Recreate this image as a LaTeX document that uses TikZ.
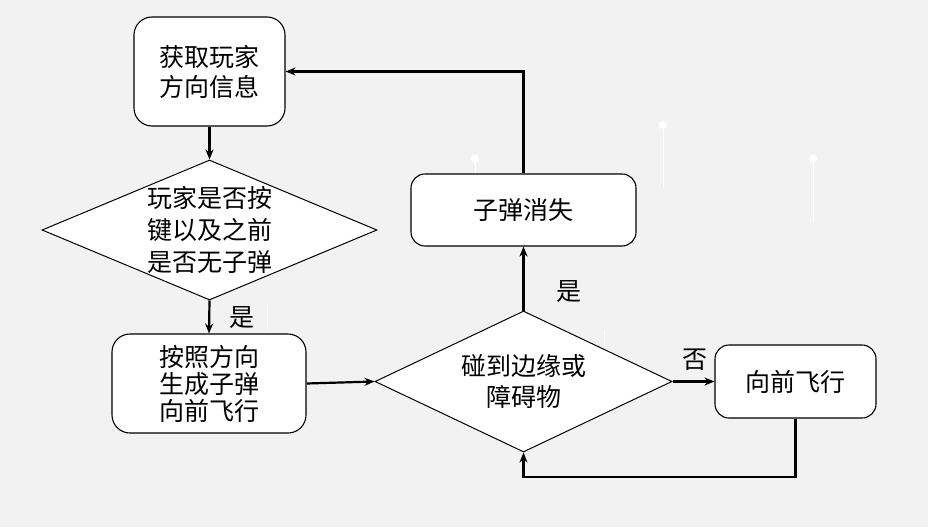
\documentclass[tikz,border=0pt]{standalone}
\usepackage{fontspec}
\newfontfamily\cjk{Noto Sans CJK SC}
\usetikzlibrary{shapes.geometric,arrows.meta}
\definecolor{bg}{HTML}{F2F2F2}
\begin{document}
\begin{tikzpicture}[x=1pt,y=-1pt,
  box/.style={draw,line width=1.1pt,fill=white,align=center,inner sep=0pt,
    font=\cjk\fontsize{25}{30}\selectfont},
  dia/.style={draw,diamond,line width=1pt,fill=white,inner sep=0pt},
  txt/.style={align=center,inner sep=0pt,font=\cjk\fontsize{25}{32}\selectfont},
  arr/.style={line width=2.2pt,-{Stealth[length=10pt,width=8pt]}},
  lbl/.style={font=\cjk\fontsize{25}{25}\selectfont,inner sep=0pt},
  deco/.style={white,line width=0.8pt}]
\fill[bg] (0,0) rectangle (928,527);
\useasboundingbox (0,0) rectangle (928,527);
% faint decorations
\draw[deco] (475,159) -- (475,175);
\fill[white] (475,159) circle (4);
\draw[deco] (663,125) -- (663,188);
\fill[white] (663,125) circle (4);
\draw[deco] (813,159) -- (813,222);
\fill[white] (813,159) circle (4);
\draw[deco] (267,305) -- (267,330);
\draw[deco] (604,330) -- (604,345);
% nodes
\node[box,minimum width=151pt,minimum height=109pt,rounded corners=18pt] (A) at (209.5,71.5) {获取玩家\\方向信息};
\node[dia,minimum width=335pt,minimum height=140pt] (B) at (209.5,230) {};
\node[txt] (Bt) at (B.center) {玩家是否按\\键以及之前\\是否无子弹};
\node[box,minimum width=194pt,minimum height=99pt,rounded corners=18pt,font=\cjk\fontsize{25}{27}\selectfont] (C) at (209,383.5) {按照方向\\生成子弹\\向前飞行};
\node[dia,minimum width=297pt,minimum height=141pt] (D) at (523.5,381.5) {};
\node[txt,font=\cjk\fontsize{25}{31}\selectfont] (Dt) at (D.center) {碰到边缘或\\障碍物};
\node[box,minimum width=225pt,minimum height=72pt,rounded corners=14pt] (E) at (523.5,210) {子弹消失};
\node[box,minimum width=161pt,minimum height=73pt,rounded corners=14pt] (F) at (795.5,381.5) {向前飞行};
% labels
\node[lbl] (L1) at (242,318) {是};
\node[lbl] (L2) at (569,292) {是};
\node[lbl] (L3) at (695,360) {否};
% connectors
\draw[arr] (A.south) -- (B.north);
\draw[arr] (B.south) -- (C.north);
\draw[arr] (C.east) -- (D.west);
\draw[arr] (D.north) -- (E.south);
\draw[arr] (E.north) |- (A.east);
\draw[arr] (D.east) -- (F.west);
\coordinate (Fb) at (795.5,477);
\draw[arr] (F.south) -- (Fb) -| (D.south);
\end{tikzpicture}
\end{document}
